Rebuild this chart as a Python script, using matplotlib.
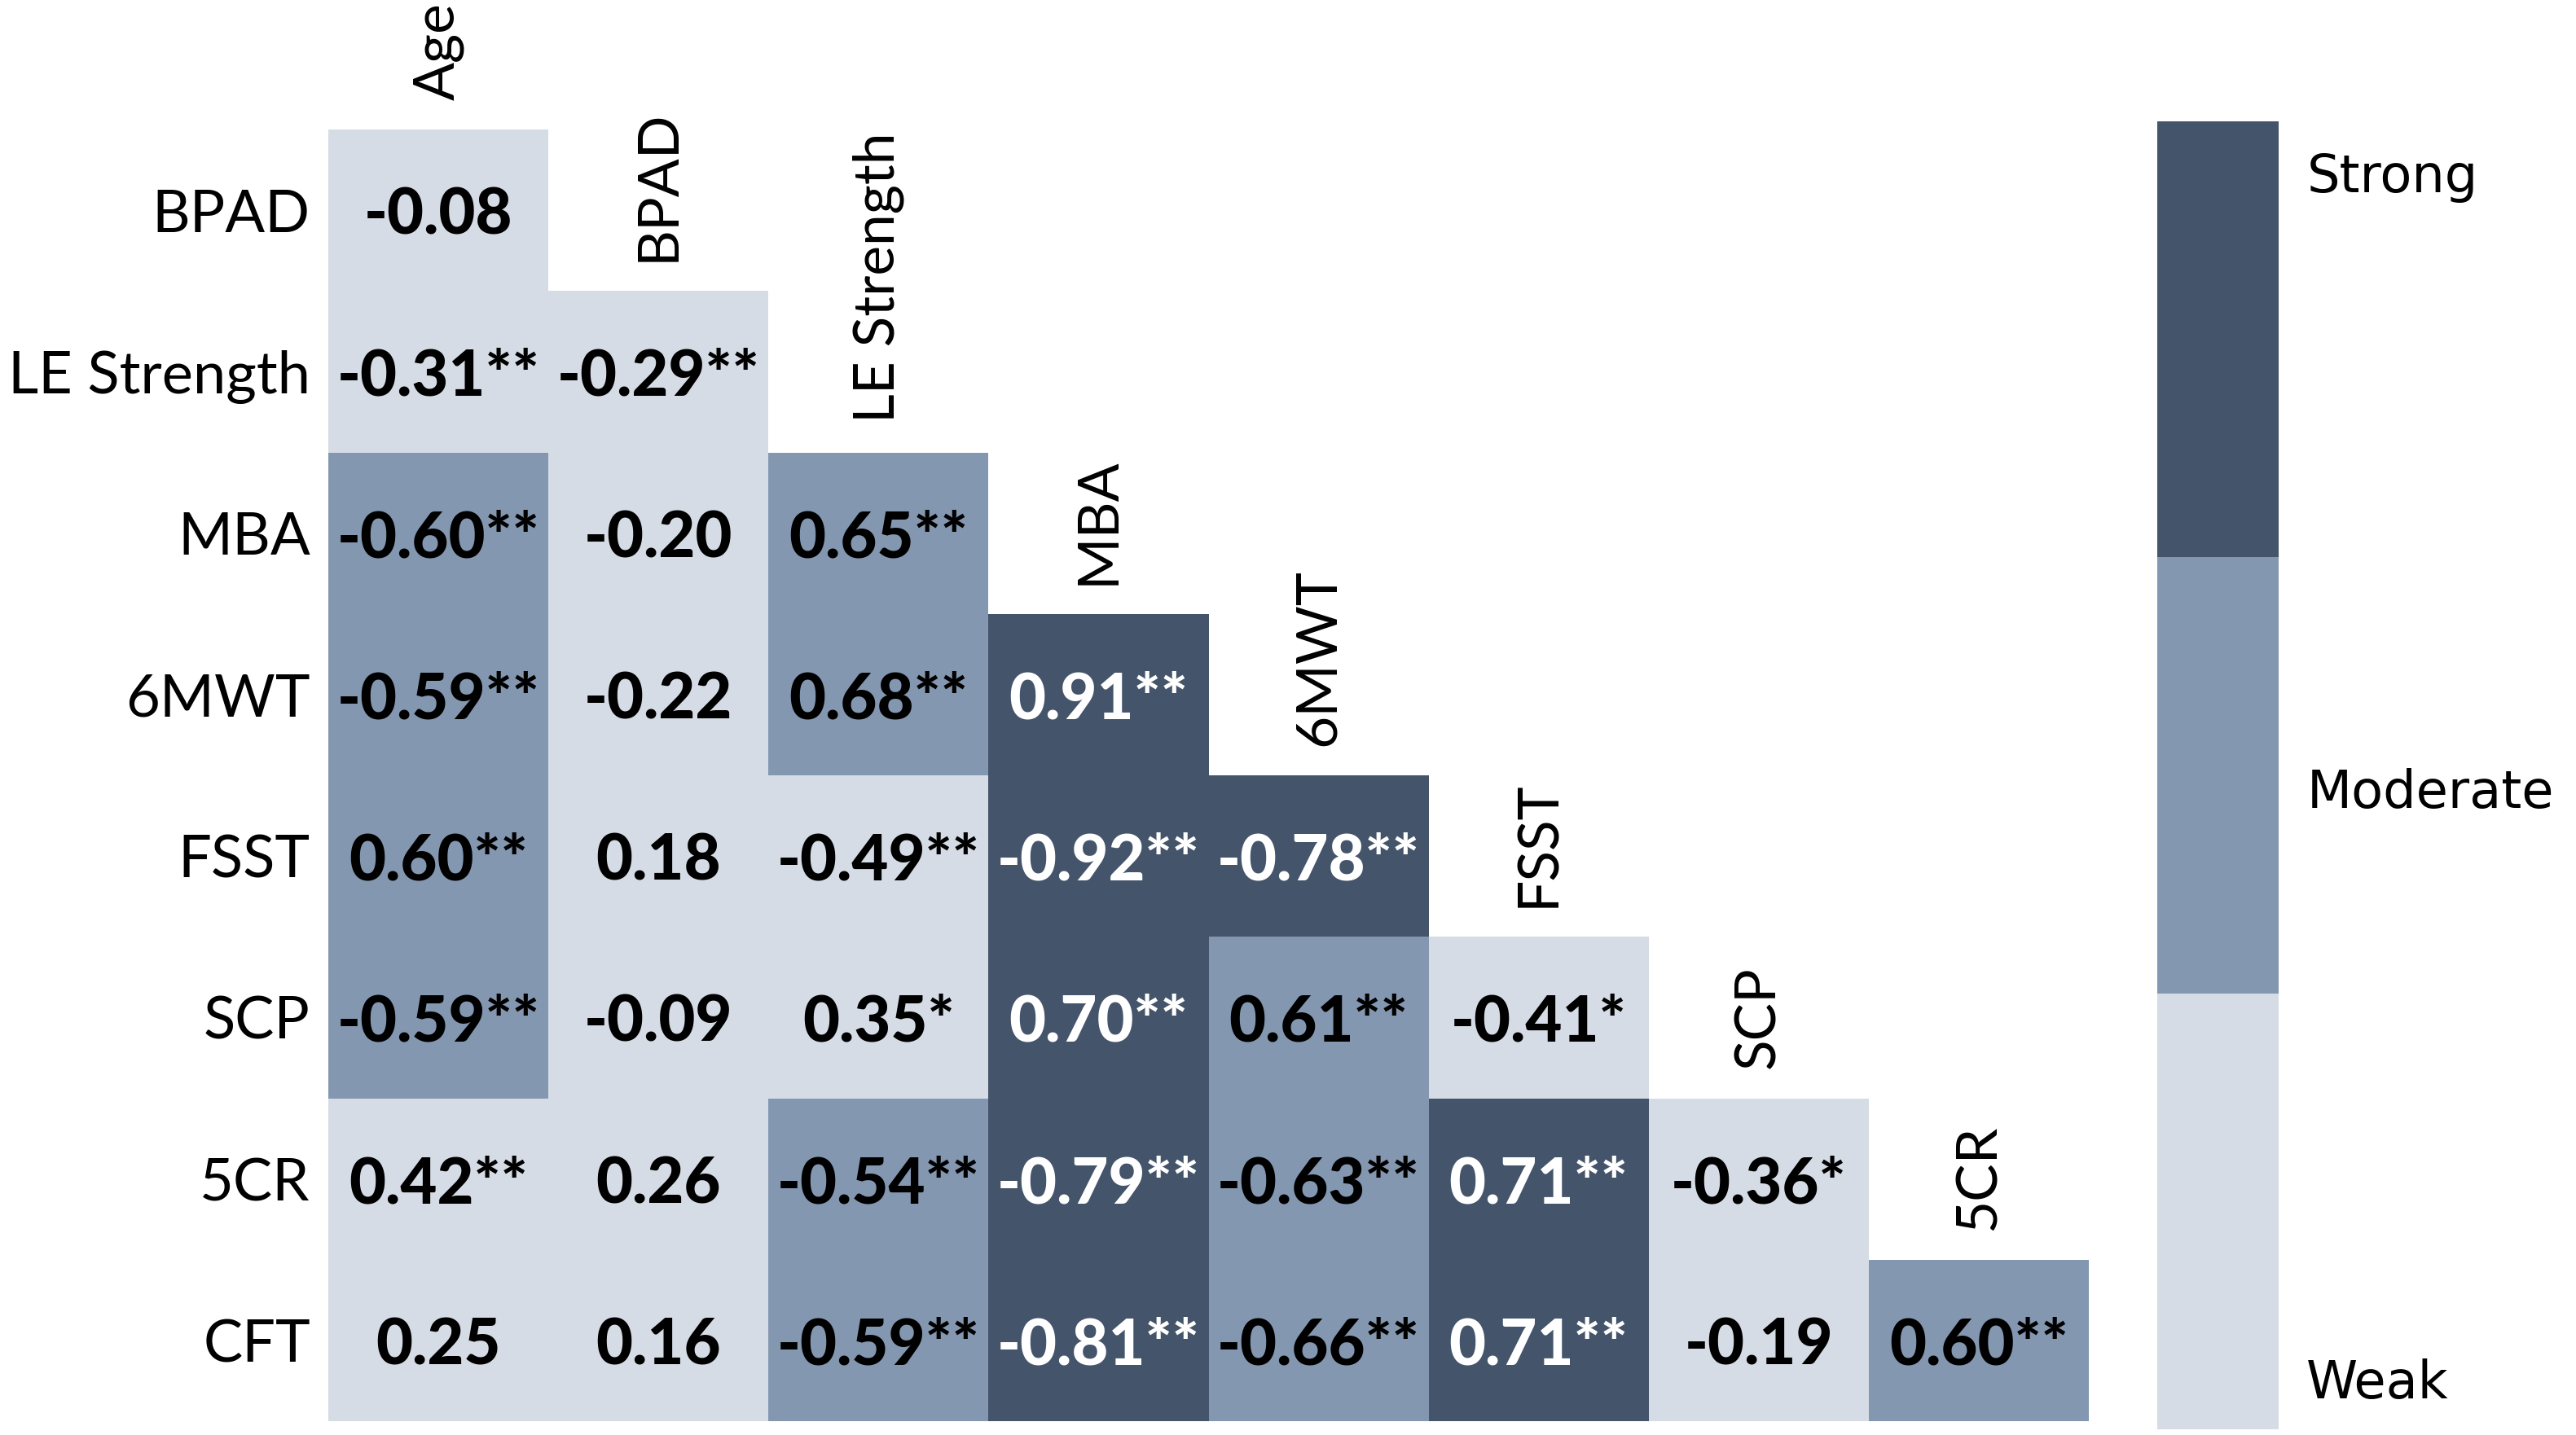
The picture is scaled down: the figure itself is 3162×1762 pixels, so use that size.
import numpy as np
import matplotlib.pyplot as plt
from matplotlib.colors import ListedColormap, BoundaryNorm
import matplotlib as mpl

# Data (lower-triangular correlation matrix)
row_labels = ['BPAD', 'LE Strength', 'MBA', '6MWT', 'FSST', 'SCP', '5CR', 'CFT']
col_labels = ['Age', 'BPAD', 'LE Strength', 'MBA', '6MWT', 'FSST', 'SCP', '5CR']

r_bpad = [-0.08]
r_le = [-0.31, -0.29]
r_mba = [-0.60, -0.20, 0.65]
r_6mwt = [-0.59, -0.22, 0.68, 0.91]
r_fsst = [0.60, 0.18, -0.49, -0.92, -0.78]
r_scp = [-0.59, -0.09, 0.35, 0.70, 0.61, -0.41]
r_5cr = [0.42, 0.26, -0.54, -0.79, -0.63, 0.71, -0.36]
r_cft = [0.25, 0.16, -0.59, -0.81, -0.66, 0.71, -0.19, 0.60]

sig_bpad = ['']
sig_le = ['**', '**']
sig_mba = ['**', '', '**']
sig_6mwt = ['**', '', '**', '**']
sig_fsst = ['**', '', '**', '**', '**']
sig_scp = ['**', '', '*', '**', '**', '*']
sig_5cr = ['**', '', '**', '**', '**', '**', '*']
sig_cft = ['', '', '**', '**', '**', '**', '', '**']

rows = [r_bpad, r_le, r_mba, r_6mwt, r_fsst, r_scp, r_5cr, r_cft]
sigs = [sig_bpad, sig_le, sig_mba, sig_6mwt, sig_fsst, sig_scp, sig_5cr, sig_cft]

strength_labels = ['Weak', 'Moderate', 'Strong']
bounds = [0, 0.5, 0.7, 1.0]
colors = ['#D6DCE5', '#8497B0', '#44546A']

n = len(row_labels)
mat = np.full((n, n), np.nan)
for i, r in enumerate(rows):
    mat[i, :len(r)] = r
mat = np.ma.masked_invalid(mat)

cmap = ListedColormap(colors)
norm = BoundaryNorm(bounds, cmap.N)

W, H = 3162, 1762
fig = plt.figure(figsize=(W / 200, H / 200), dpi=200)
fig.patch.set_facecolor('white')

ax = fig.add_axes([403 / W, 1 - 1745 / H, 2161 / W, 1586 / H])
ax.pcolormesh(np.arange(n + 1), np.arange(n + 1), np.abs(mat), cmap=cmap, norm=norm)
ax.set_xlim(0, n)
ax.set_ylim(n, 0)
for s in ax.spines.values():
    s.set_visible(False)

ax.set_xticks([])
ax.set_yticks(np.arange(n) + 0.5)
ax.set_yticklabels(row_labels, fontfamily='Lato', fontsize=26)
ax.tick_params(axis='y', length=0, pad=8)

# cell values
for i, r in enumerate(rows):
    for j, v in enumerate(r):
        txt = f'{v:.2f}' + sigs[i][j]
        c = 'white' if abs(v) >= 0.7 else 'black'
        ax.annotate(txt, xy=(j + 0.5, i + 0.5), xytext=(0, -2.5),
                    textcoords='offset points', ha='center', va='center', color=c,
                    fontfamily='Lato', fontweight='black', fontsize=28)

# column labels sit above the diagonal cells
for j, lab in enumerate(col_labels):
    ax.annotate(lab, xy=(j + 0.5, j), xytext=(0, 13), textcoords='offset points',
                rotation=90, ha='center', va='bottom', fontfamily='Lato',
                fontsize=25, annotation_clip=False)

# legend bar
cax = fig.add_axes([2648 / W, 1 - 1755 / H, 149 / W, 1606 / H])
cb = mpl.colorbar.ColorbarBase(cax, cmap=cmap, norm=norm, boundaries=bounds,
                               spacing='uniform', orientation='vertical')
cb.outline.set_visible(False)
cb.set_ticks([])
cb.minorticks_off()
cax.tick_params(which='both', length=0)
for lab, y in zip(strength_labels, [0.035, 0.486, 0.957]):
    cax.text(1.23, y, lab, transform=cax.transAxes, ha='left', va='center',
             fontfamily='DejaVu Sans', fontsize=23)

plt.savefig('out.png', dpi=200)
